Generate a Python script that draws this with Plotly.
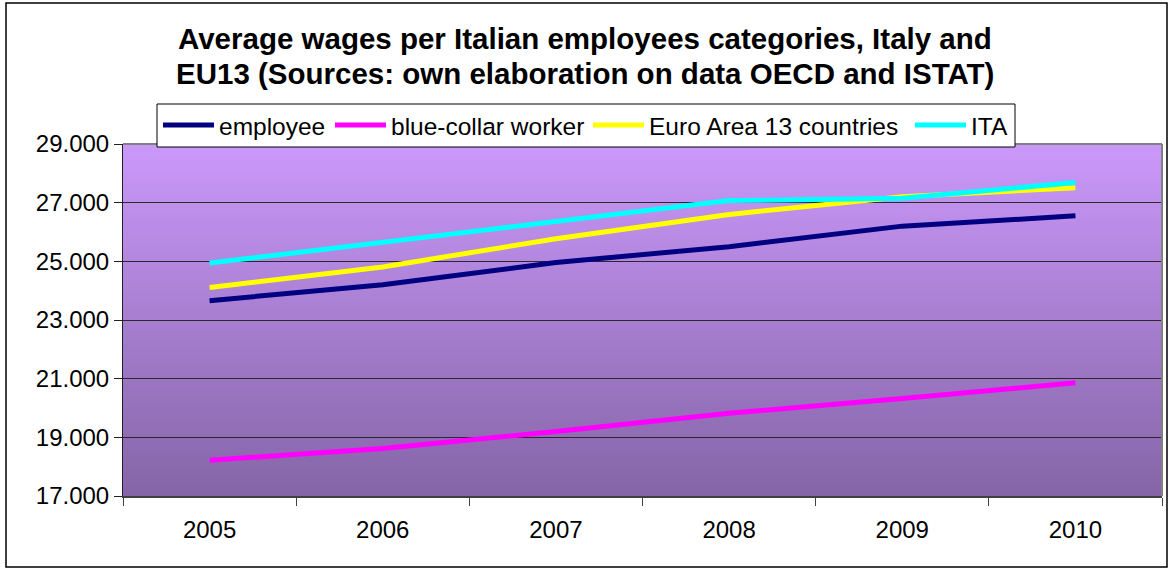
import plotly.graph_objects as go

# Average yearly wages (EUR)
years = ["2005", "2006", "2007", "2008", "2009", "2010"]
employee = [23660, 24200, 24960, 25500, 26200, 26550]
blue_collar = [18220, 18620, 19200, 19820, 20320, 20860]
euro_area_13 = [24110, 24810, 25770, 26600, 27200, 27510]
ita = [24940, 25660, 26340, 27070, 27150, 27690]

series_names = ["employee", "blue-collar worker", "Euro Area 13 countries", "ITA"]
series_values = [employee, blue_collar, euro_area_13, ita]
series_colors = ["#000080", "#FF00FF", "#FFFF00", "#00FFFF"]

FONT = "Liberation Sans, Arial, sans-serif"
W, H = 1172, 571
M_L, M_R, M_T, M_B = 123, 10, 144, 75
PW, PH = W - M_L - M_R, H - M_T - M_B


def px_x(px):
    """Page pixel column -> paper x."""
    return (px - M_L) / PW


def px_y(py):
    """Page pixel row -> paper y."""
    return (H - M_B - py) / PH


fig = go.Figure()
for name, vals, color in zip(series_names, series_values, series_colors):
    fig.add_trace(go.Scatter(
        x=years, y=vals, name=name, mode="lines",
        line=dict(color=color, width=5), showlegend=False,
    ))

shapes = []
annotations = []

# vertical gradient for the plotting area
top_rgb = (202, 152, 250)
bot_rgb = (133, 101, 167)
n_bands = 80
for i in range(n_bands):
    t = i / (n_bands - 1)
    r = round(bot_rgb[0] + (top_rgb[0] - bot_rgb[0]) * t)
    g = round(bot_rgb[1] + (top_rgb[1] - bot_rgb[1]) * t)
    b = round(bot_rgb[2] + (top_rgb[2] - bot_rgb[2]) * t)
    shapes.append(dict(
        type="rect", xref="paper", yref="paper",
        x0=0, x1=1, y0=i / n_bands, y1=(i + 1) / n_bands + 0.002,
        fillcolor=f"rgb({r},{g},{b})", line=dict(width=0), layer="below",
    ))

# grey frame on the top and right of the plotting area
shapes.append(dict(type="line", xref="paper", yref="paper", x0=0, x1=1, y0=1, y1=1,
                   line=dict(color="#808080", width=2), layer="above"))
shapes.append(dict(type="line", xref="paper", yref="paper", x0=1, x1=1, y0=0, y1=1,
                   line=dict(color="#808080", width=2), layer="above"))

# outer chart border
shapes.append(dict(type="rect", xref="paper", yref="paper",
                   x0=px_x(6), x1=px_x(1167), y0=px_y(567), y1=px_y(3),
                   line=dict(color="#000000", width=1.5), fillcolor="rgba(0,0,0,0)",
                   layer="above"))

# title, two centred lines
for text, cy in [("Average wages per Italian employees categories, Italy and", 38),
                 ("EU13 (Sources: own elaboration on data OECD and ISTAT)", 73)]:
    annotations.append(dict(
        text=f"<b>{text}</b>", xref="paper", yref="paper",
        x=px_x(585), y=px_y(cy), xanchor="center", yanchor="middle",
        showarrow=False, font=dict(family=FONT, size=29.5, color="black"),
    ))

# legend box with line samples
shapes.append(dict(type="rect", xref="paper", yref="paper",
                   x0=px_x(157), x1=px_x(1015), y0=px_y(147), y1=px_y(104),
                   line=dict(color="black", width=1), fillcolor="white", layer="above"))
legend_starts = [163, 335, 593, 915]
legend_y = 125
for name, color, x0 in zip(series_names, series_colors, legend_starts):
    shapes.append(dict(type="line", xref="paper", yref="paper",
                       x0=px_x(x0), x1=px_x(x0 + 51), y0=px_y(legend_y), y1=px_y(legend_y),
                       line=dict(color=color, width=5), layer="above"))
    annotations.append(dict(
        text=name, xref="paper", yref="paper",
        x=px_x(x0 + 54), y=px_y(legend_y + 1), xanchor="left", yanchor="middle",
        showarrow=False, font=dict(family=FONT, size=24.5, color="black"),
    ))

fig.update_layout(
    width=W, height=H,
    margin=dict(l=M_L, r=M_R, t=M_T, b=M_B),
    paper_bgcolor="white",
    plot_bgcolor="rgba(0,0,0,0)",
    separators=",.",
    font=dict(family=FONT, color="black"),
    showlegend=False,
    shapes=shapes,
    annotations=annotations,
)

fig.update_xaxes(
    type="category", range=[-0.5, 5.5],
    showgrid=False, showline=True, linecolor="#404040", linewidth=2,
    ticks="outside", tickson="boundaries", ticklen=8, tickcolor="#404040",
    tickfont=dict(family=FONT, size=24, color="black"),
    ticklabelstandoff=11,
)
fig.update_yaxes(
    range=[17000, 29000], tick0=17000, dtick=2000, tickformat=",d",
    showgrid=True, gridcolor="#2a2a2a", gridwidth=1,
    showline=True, linecolor="#202020", linewidth=1,
    ticks="outside", ticklen=8, tickcolor="#202020",
    tickfont=dict(family=FONT, size=24, color="black"),
    zeroline=False,
)

fig.write_html("out.html")
